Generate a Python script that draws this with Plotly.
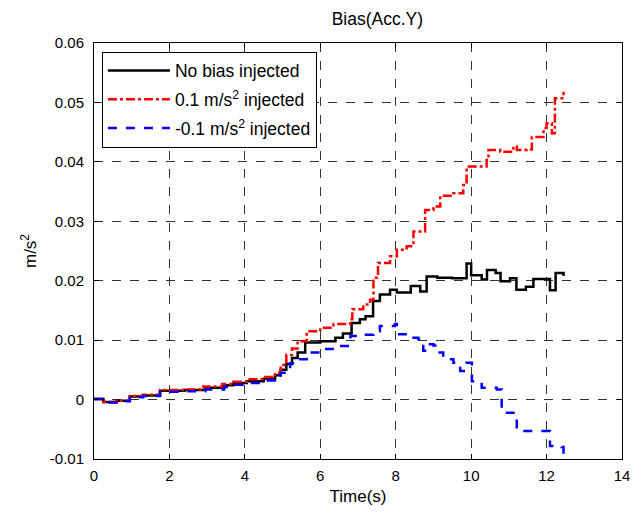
import plotly.graph_objects as go

# ---- data ----
black_x = [0, 0.25, 0.6, 0.95, 1.3, 1.75, 2.4, 2.95, 3.45, 3.7, 4.05, 4.5, 4.8, 4.95, 5.1, 5.25, 5.4, 5.6,
           6.0, 6.4, 6.6, 6.83, 7.05, 7.2, 7.4, 7.58, 7.85, 8.03, 8.4, 8.65, 8.82, 9.1, 9.5, 9.88, 10.0,
           10.28, 10.42, 10.65, 10.78, 11.03, 11.2, 11.45, 11.65, 12.09, 12.24, 12.45]
black_y = [0.0001, -0.0004, -0.0002, 0.0005, 0.0007, 0.0015, 0.0016, 0.0020, 0.0024, 0.0028, 0.0031, 0.0035,
           0.0041, 0.0050, 0.0060, 0.0070, 0.0079, 0.0096, 0.0098, 0.0104, 0.0111, 0.0129, 0.0135, 0.0140,
           0.0166, 0.0177, 0.0185, 0.0180, 0.0191, 0.0182, 0.0207, 0.0205, 0.0204, 0.0229, 0.0209, 0.0202,
           0.0218, 0.0213, 0.0199, 0.0204, 0.0185, 0.0190, 0.0203, 0.0184, 0.0213, 0.0208]

red_x = [0, 0.25, 0.6, 0.95, 1.3, 1.75, 2.4, 2.9, 3.4, 3.7, 4.05, 4.5, 4.8, 4.95, 5.1, 5.25, 5.4, 5.64,
         6.0, 6.35, 6.79, 6.85, 7.14, 7.32, 7.41, 7.53, 7.85, 8.03, 8.29, 8.47, 8.78, 9.0, 9.18, 9.53,
         9.79, 9.88, 10.24, 10.41, 10.46, 10.77, 11.12, 11.21, 11.47, 11.61, 11.92, 12.0, 12.14, 12.22, 12.45]
red_y = [0.0001, -0.0004, -0.0002, 0.0006, 0.0008, 0.0016, 0.0017, 0.0022, 0.0026, 0.0030, 0.0034, 0.0038,
         0.0045, 0.0058, 0.0075, 0.0086, 0.0098, 0.0115, 0.0121, 0.0127, 0.0135, 0.0152, 0.0160, 0.0168,
         0.0205, 0.0230, 0.0241, 0.0252, 0.0258, 0.0283, 0.0319, 0.0325, 0.0343, 0.0347, 0.0361, 0.0392,
         0.0392, 0.0403, 0.0420, 0.0417, 0.0426, 0.0420, 0.0421, 0.0442, 0.0457, 0.0465, 0.0448, 0.0507, 0.0518]

blue_x = [0, 0.25, 0.6, 0.95, 1.3, 1.75, 2.4, 2.95, 3.45, 3.7, 4.05, 4.5, 4.8, 4.95, 5.2, 5.37, 5.64,
          6.0, 6.44, 6.8, 7.05, 7.41, 7.58, 7.98, 8.03, 8.38, 8.6, 8.73, 8.82, 9.0, 9.09, 9.26, 9.53,
          9.71, 9.88, 10.02, 10.24, 10.28, 10.68, 10.81, 11.21, 11.65, 12.09, 12.4, 12.45]
blue_y = [0.0001, -0.0005, -0.0003, 0.0004, 0.0006, 0.0013, 0.0014, 0.0017, 0.0021, 0.0025, 0.0028, 0.0032,
          0.0036, 0.0045, 0.0061, 0.0068, 0.0079, 0.0085, 0.0090, 0.0107, 0.0109, 0.0115, 0.0124, 0.0127,
          0.0110, 0.0104, 0.0102, 0.0082, 0.0093, 0.0091, 0.0079, 0.0068, 0.0062, 0.0048, 0.0062, 0.0031,
          0.0029, 0.0020, 0.0017, -0.0022, -0.0053, -0.0053, -0.0078, -0.0080, -0.0097]

x_ticks = [0, 2, 4, 6, 8, 10, 12, 14]
x_ticktext = ["0", "2", "4", "6", "8", "10", "12", "14"]
y_ticks = [-0.01, 0, 0.01, 0.02, 0.03, 0.04, 0.05, 0.06]
y_ticktext = ["-0.01", "0", "0.01", "0.02", "0.03", "0.04", "0.05", "0.06"]

names = ["No bias injected", "0.1 m/s<sup>2</sup> injected", "-0.1 m/s<sup>2</sup> injected"]

FONT = "Arial, 'Liberation Sans', sans-serif"

fig = go.Figure()
fig.add_trace(go.Scatter(x=black_x, y=black_y, mode="lines", line_shape="hv", name=names[0],
                         legendgroup="a", line=dict(color="black", width=2.5)))
fig.add_trace(go.Scatter(x=red_x, y=red_y, mode="lines", line_shape="hv", name=names[1],
                         legendgroup="b", line=dict(color="red", width=2.5, dash="dashdot")))
fig.add_trace(go.Scatter(x=blue_x, y=blue_y, mode="lines", line_shape="hv", name=names[2],
                         legendgroup="c", line=dict(color="blue", width=2.5, dash="dash")))

axis_common = dict(showline=True, linecolor="black", linewidth=1, mirror="ticks",
                   ticks="inside", ticklen=5, tickcolor="black", automargin=False,
                   showgrid=True, gridcolor="#333333", gridwidth=1, griddash="dash",
                   zeroline=False, tickfont=dict(family=FONT, size=15, color="black"))

fig.update_layout(
    width=644, height=514,
    paper_bgcolor="white", plot_bgcolor="white",
    margin=dict(l=94, r=22, t=43, b=55),
    title=dict(text="Bias(Acc.Y)", x=0.586, xanchor="center", y=0.963, yanchor="middle",
               font=dict(family=FONT, size=17.5, color="black")),
    font=dict(family=FONT, color="black"),
    xaxis=dict(range=[0, 14], tickvals=x_ticks, ticktext=x_ticktext, ticklabelstandoff=3,
               title=dict(text="Time(s)", font=dict(family=FONT, size=17, color="black"), standoff=7),
               **axis_common),
    yaxis=dict(range=[-0.01, 0.06], tickvals=y_ticks, ticktext=y_ticktext, ticklabelstandoff=6,
               title=dict(text="m/s<sup>2</sup>", font=dict(family=FONT, size=17, color="black"), standoff=8),
               **axis_common),
    legend=dict(x=0.015, y=0.979, xanchor="left", yanchor="top",
                bgcolor="white", bordercolor="black", borderwidth=1,
                font=dict(family=FONT, size=17.5, color="black"),
                tracegroupgap=3, itemwidth=62),
    showlegend=True,
)

fig.write_html("out.html", config={"displayModeBar": False},
               post_script="document.body.style.margin='0';document.body.style.overflow='hidden';")
